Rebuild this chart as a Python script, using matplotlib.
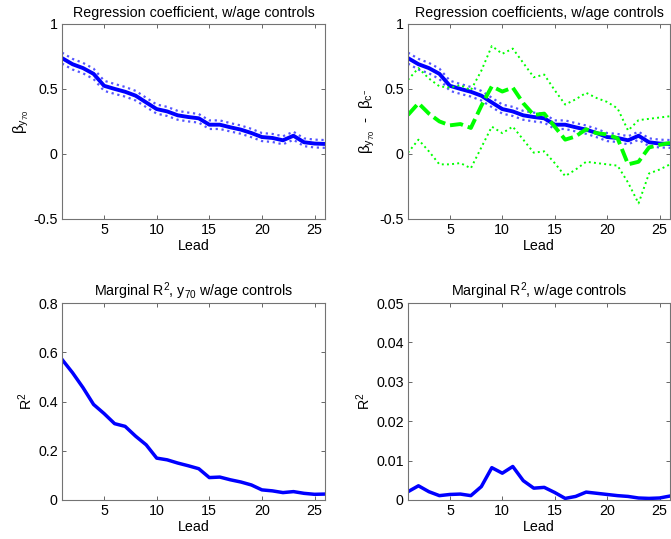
import matplotlib
matplotlib.use("Agg")
import matplotlib.pyplot as plt
from matplotlib.ticker import FuncFormatter
import numpy as np

plt.rcParams['font.family'] = ['Liberation Sans', 'DejaVu Sans']
plt.rcParams['mathtext.fontset'] = 'custom'
plt.rcParams['mathtext.rm'] = 'Liberation Sans'
plt.rcParams['mathtext.it'] = 'Liberation Sans'
plt.rcParams['font.size'] = 10.3

lead = np.arange(1, 27)

# beta on y70 (w/age controls)
beta_y = [0.737, 0.69, 0.66, 0.616, 0.524, 0.50, 0.478, 0.448, 0.396, 0.345,
          0.327, 0.297, 0.284, 0.274, 0.225, 0.225, 0.205, 0.187, 0.161, 0.13,
          0.123, 0.105, 0.14, 0.09, 0.08, 0.077]
beta_y_half = [0.042, 0.041, 0.040, 0.040, 0.039, 0.038, 0.037, 0.037, 0.036, 0.035,
               0.035, 0.034, 0.034, 0.033, 0.033, 0.033, 0.032, 0.032, 0.032, 0.031,
               0.031, 0.031, 0.031, 0.030, 0.030, 0.030]

# beta on c (difference series)
beta_c = [0.30, 0.39, 0.31, 0.25, 0.22, 0.23, 0.20, 0.37, 0.52, 0.48,
          0.51, 0.39, 0.30, 0.31, 0.21, 0.11, 0.135, 0.19, 0.16, 0.15,
          0.12, -0.08, -0.06, 0.05, 0.07, 0.085]
beta_c_hi = [0.57, 0.66, 0.58, 0.52, 0.51, 0.53, 0.49, 0.64, 0.83, 0.77,
             0.81, 0.70, 0.59, 0.61, 0.49, 0.38, 0.42, 0.47, 0.43, 0.40,
             0.35, 0.18, 0.26, 0.27, 0.28, 0.29]
beta_c_lo = [0.01, 0.11, 0.02, -0.08, -0.08, -0.07, -0.11, 0.05, 0.21, 0.16,
             0.21, 0.11, 0.01, 0.02, -0.07, -0.17, -0.12, -0.06, -0.07, -0.08,
             -0.09, -0.22, -0.38, -0.15, -0.12, -0.08]

# marginal R^2
r2_y = [0.571, 0.517, 0.456, 0.388, 0.351, 0.310, 0.299, 0.259, 0.224, 0.170,
        0.163, 0.150, 0.139, 0.127, 0.091, 0.093, 0.082, 0.073, 0.061, 0.041,
        0.037, 0.030, 0.034, 0.027, 0.023, 0.024]
r2_c = [0.0021, 0.0036, 0.0021, 0.0011, 0.0014, 0.0015, 0.0011, 0.0034, 0.0082, 0.0068,
        0.0085, 0.0049, 0.0030, 0.0032, 0.0019, 0.0004, 0.0009, 0.0020, 0.0017, 0.0014,
        0.0011, 0.0009, 0.0005, 0.0004, 0.0005, 0.0010]

blue = '#0000ff'
lblue = '#5555ff'
green = '#00ff00'

fig = plt.figure(figsize=(6.71, 5.39), dpi=100)
ax1 = fig.add_axes([0.0924, 0.5937, 0.392, 0.362])
ax2 = fig.add_axes([0.608, 0.5937, 0.3905, 0.362])
ax3 = fig.add_axes([0.0924, 0.0724, 0.392, 0.3654])
ax4 = fig.add_axes([0.608, 0.0724, 0.3905, 0.3654])

by = np.array(beta_y)
bh = np.array(beta_y_half)

for ax in (ax1, ax2):
    ax.plot(lead, by + bh, ':', color=lblue, lw=1.6)
    ax.plot(lead, by - bh, ':', color=lblue, lw=1.6)
    ax.plot(lead, by, '-', color=blue, lw=2.8)

ax2.plot(lead, beta_c, '--', color=green, lw=2.8, dashes=(3.4, 1.3))
ax2.plot(lead, beta_c_hi, ':', color=green, lw=1.4)
ax2.plot(lead, beta_c_lo, ':', color=green, lw=1.4)

ax3.plot(lead, r2_y, '-', color=blue, lw=2.5)
ax4.plot(lead, r2_c, '-', color=blue, lw=2.5)

fmt = FuncFormatter(lambda v, p: '%g' % round(v, 4))
for ax in (ax1, ax2, ax3, ax4):
    ax.set_xlim(1, 26)
    ax.set_xticks([5, 10, 15, 20, 25])
    ax.set_xlabel('Lead', labelpad=1)
    ax.tick_params(direction='in', top=True, right=True, length=3, width=0.6,
                   color='0.3', labelsize=10.3, pad=3)
    ax.yaxis.set_major_formatter(fmt)
    for s in ax.spines.values():
        s.set_color('0.45')
        s.set_linewidth(0.8)

for ax in (ax1, ax2):
    ax.set_ylim(-0.5, 1)
    ax.set_yticks([-0.5, 0, 0.5, 1])

ax3.set_ylim(0, 0.8)
ax3.set_yticks([0, 0.2, 0.4, 0.6, 0.8])
ax4.set_ylim(0, 0.05)
ax4.set_yticks([0, 0.01, 0.02, 0.03, 0.04, 0.05])

ax1.set_title('Regression coefficient, w/age controls', fontsize=10.3, pad=5)
ax2.set_title('Regression coefficients, w/age controls', fontsize=10.3, pad=5)
ax3.set_title(r'Marginal R$^2$, y$_{70}$ w/age controls', fontsize=10.3, pad=5)
ax4.set_title(r'Marginal R$^2$, w/age controls', fontsize=10.3, pad=5)

ax1.set_ylabel(r'$\beta_{y_{70}}$', labelpad=2, fontsize=11)
ax2.set_ylabel(r'$\beta_{y_{70}}$  -  $\beta_{c^{-}}$', labelpad=2, fontsize=11)
ax3.set_ylabel(r'R$^2$', labelpad=2)
ax4.set_ylabel(r'R$^2$', labelpad=2)

fig.savefig('out.png', dpi=100)
